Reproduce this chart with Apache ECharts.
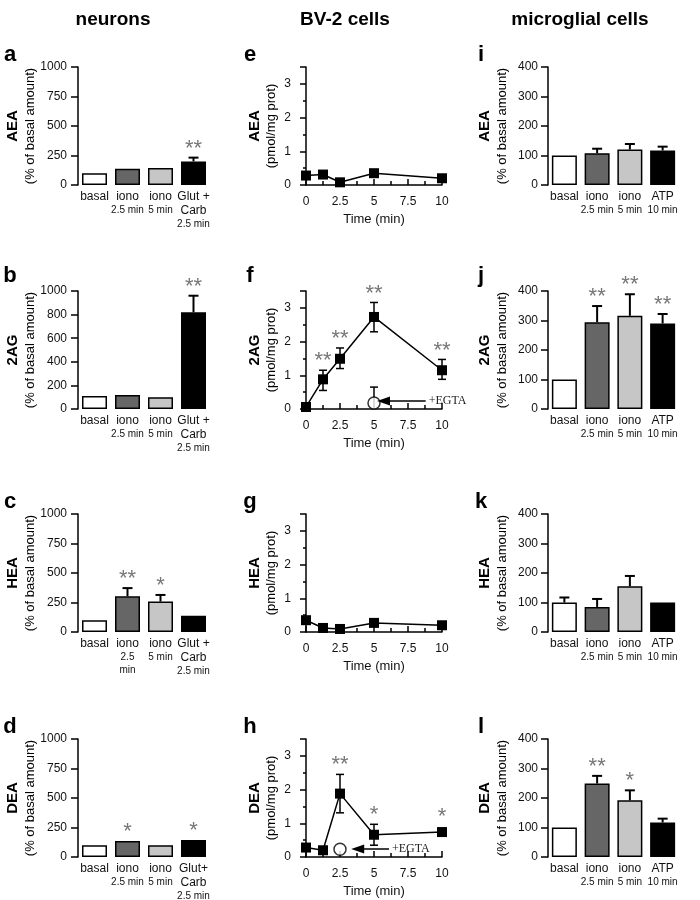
<!DOCTYPE html>
<html>
<head>
<meta charset="utf-8">
<script src="https://cdn.jsdelivr.net/npm/echarts@6/dist/echarts.min.js"></script>
<style>
  html, body { margin: 0; padding: 0; background: #fff; }
  #chart { width: 700px; height: 900px; }
</style>
</head>
<body>
<div id="chart"></div>
<script>
'use strict';

// ---- data ----
var times = [0, 1.25, 2.5, 5, 10];
var timeTicks = [0, 2.5, 5, 7.5, 10];

// neurons, % of basal amount
var neuronCats = ['basal', 'iono\n2.5 min', 'iono\n5 min', 'Glut +\nCarb\n2.5 min'];
var neuronCatsHEA = ['basal', 'iono\n2.5\nmin', 'iono\n5 min', 'Glut +\nCarb\n2.5 min'];
var neuronCatsDEA = ['basal', 'iono\n2.5 min', 'iono\n5 min', 'Glut+\nCarb\n2.5 min'];
var neuronAEA = [100, 138, 145, 200];
var neuronAEAErr = [null, null, null, 232];
var neuronAEAStars = ['', '', '', '**'];
var neuron2AG = [110, 118, 100, 820];
var neuron2AGErr = [null, null, null, 960];
var neuron2AGStars = ['', '', '', '**'];
var neuronHEA = [100, 302, 258, 138];
var neuronHEAErr = [null, 372, 314, null];
var neuronHEAStars = ['', '**', '*', ''];
var neuronDEA = [100, 135, 100, 145];
var neuronDEAErr = [null, null, null, null];
var neuronDEAStars = ['', '*', '', '*'];

// BV-2 cells, pmol/mg prot over time
var bv2AEA = [0.28, 0.31, 0.08, 0.35, 0.2];
var bv22AG = [0.06, 0.88, 1.49, 2.73, 1.15];
var bv22AGHi = [null, 1.15, 1.81, 3.16, 1.47];
var bv22AGLo = [null, 0.55, 1.2, 2.29, 0.88];
var bv22AGStars = ['', '**', '**', '**', '**'];
var bv2HEA = [0.35, 0.12, 0.09, 0.27, 0.2];
var bv2DEA = [0.28, 0.2, 1.88, 0.66, 0.74];
var bv2DEAHi = [null, null, 2.45, 0.97, null];
var bv2DEALo = [null, null, 1.31, 0.35, null];
var bv2DEAStars = ['', '', '**', '*', '*'];
var egta2AG = [5, 0.18, 0.65];     // time, value, upper error
var egtaDEA = [2.5, 0.23, null];
var egtaArrow2AG = [5.7, 8.8, 0.24];  // from time, to time, level
var egtaArrowDEA = [3.8, 6.1, 0.24];

// microglial cells, % of basal amount
var microCats = ['basal', 'iono\n2.5 min', 'iono\n5 min', 'ATP\n10 min'];
var microAEA = [100, 108, 120, 117];
var microAEAErr = [null, 123, 139, 130];
var micro2AG = [100, 294, 316, 290];
var micro2AGErr = [null, 349, 389, 322];
var micro2AGStars = ['', '**', '**', '**'];
var microHEA = [100, 85, 155, 100];
var microHEAErr = [117, 112, 190, null];
var microDEA = [100, 249, 192, 117];
var microDEAErr = [null, 275, 226, 130];
var microDEAStars = ['', '**', '*', ''];
var noStars = ['', '', '', '', ''];

// ---- layout ----
var FONT = '"Liberation Sans", Arial, sans-serif';
var barColors = ['#ffffff', '#666666', '#c6c6c6', '#000000'];
var colLeft = [78, 306, 548];
var colWidth = [132, 136, 131];
var rowTop = [67, 291, 514, 739];
var plotH = 118;

var grids = [], xAxes = [], yAxes = [], series = [], graphics = [];

function catLabel(value) {
    return value.split('\n').map(function(line, i) {
        var small = i > 0 && /\d|min/.test(line);
        return '{' + (small ? 's' : 'm') + '|' + line + '}';
    }).join('\n');
}

function starText(s, x, y) {
    return {
        type: 'text', x: x, y: y - 3,
        style: { text: s, font: '22px ' + FONT, fill: '#777', align: 'center', verticalAlign: 'middle' }
    };
}

function addGrid(col, row) {
    var idx = grids.length;
    grids.push({ left: colLeft[col], top: rowTop[row], width: colWidth[col], height: plotH, outerBoundsMode: 'none' });
    return idx;
}

var axisLineStyle = { color: '#000', width: 1.5 };

function addBarPanel(col, row, cats, vals, errs, stars, max, interval) {
    var idx = addGrid(col, row);
    xAxes.push({
        type: 'category', gridIndex: idx, data: cats,
        axisLine: { show: false }, axisTick: { show: false },
        axisLabel: {
            interval: 0, margin: 5, formatter: catLabel,
            rich: {
                m: { fontSize: 12, lineHeight: 14, fontFamily: FONT, color: '#111' },
                s: { fontSize: 10, lineHeight: 13, fontFamily: FONT, color: '#111' }
            }
        }
    });
    yAxes.push({
        type: 'value', gridIndex: idx, min: 0, max: max, interval: interval,
        axisLine: { show: true, lineStyle: axisLineStyle },
        axisTick: { show: true, length: 7, lineStyle: axisLineStyle },
        axisLabel: {
            fontSize: 12, fontFamily: FONT, color: '#111', margin: col === 0 ? 11 : 10,
            formatter: function(v) { return String(v); }
        },
        splitLine: { show: false }
    });
    series.push({
        type: 'bar', xAxisIndex: idx, yAxisIndex: idx, barWidth: 25,
        itemStyle: { borderColor: '#000', borderWidth: 1.5 },
        data: vals.map(function(v, i) {
            return { value: v, itemStyle: { color: barColors[i] } };
        }),
        animation: false, silent: true
    });
    series.push({
        type: 'custom', xAxisIndex: idx, yAxisIndex: idx, z: 3,
        data: vals.map(function(v, i) { return [i, v]; }),
        renderItem: function(params, api) {
            var i = params.dataIndex;
            var base = api.coord([api.value(0), api.value(1)]);
            var top = base[1];
            var children = [];
            if (errs[i] != null) {
                var p = api.coord([api.value(0), errs[i]]);
                children.push({ type: 'line', shape: { x1: base[0], y1: base[1], x2: p[0], y2: p[1] }, style: { stroke: '#000', lineWidth: 2 } });
                children.push({ type: 'line', shape: { x1: p[0] - 5, y1: p[1], x2: p[0] + 5, y2: p[1] }, style: { stroke: '#000', lineWidth: 2 } });
                top = p[1];
            }
            if (stars[i]) children.push(starText(stars[i], base[0], top - 6));
            return { type: 'group', children: children };
        },
        animation: false, silent: true
    });
}

function errorSeries(idx, ts, vals, hi, lo, stars) {
    return {
        type: 'custom', xAxisIndex: idx, yAxisIndex: idx, z: 1,
        data: ts.map(function(t, i) { return [t, vals[i]]; }),
        renderItem: function(params, api) {
            var i = params.dataIndex;
            var base = api.coord([api.value(0), api.value(1)]);
            var top = base[1] - 6;
            var children = [];
            [hi[i], lo[i]].forEach(function(e) {
                if (e == null) return;
                var p = api.coord([api.value(0), e]);
                children.push({ type: 'line', shape: { x1: base[0], y1: base[1], x2: p[0], y2: p[1] }, style: { stroke: '#000', lineWidth: 1.5 } });
                children.push({ type: 'line', shape: { x1: p[0] - 4, y1: p[1], x2: p[0] + 4, y2: p[1] }, style: { stroke: '#000', lineWidth: 1.5 } });
                if (e > api.value(1)) top = p[1];
            });
            if (stars[i]) children.push(starText(stars[i], base[0], top - 6));
            return { type: 'group', children: children };
        },
        animation: false, silent: true
    };
}

function addLinePanel(row, vals, hi, lo, stars, egta, arrow) {
    var idx = addGrid(1, row);
    xAxes.push({
        type: 'value', gridIndex: idx, min: timeTicks[0], max: timeTicks[timeTicks.length - 1], interval: 2.5,
        axisLine: { show: true, lineStyle: axisLineStyle },
        axisTick: { show: true, inside: true, length: 6, lineStyle: axisLineStyle },
        minorTick: { show: true, splitNumber: 2, length: 4, lineStyle: axisLineStyle },
        axisLabel: { fontSize: 12, fontFamily: FONT, color: '#111', margin: 11 },
        splitLine: { show: false },
        name: 'Time (min)', nameLocation: 'middle', nameGap: 28,
        nameTextStyle: { fontSize: 13, fontFamily: FONT, color: '#111' }
    });
    yAxes.push({
        type: 'value', gridIndex: idx, min: 0, max: 3.5, interval: 1, offset: 7,
        axisLine: { show: true, lineStyle: axisLineStyle },
        axisTick: { show: true, length: 6, lineStyle: axisLineStyle },
        minorTick: { show: true, splitNumber: 2, length: 3, lineStyle: axisLineStyle },
        axisLabel: { fontSize: 12, fontFamily: FONT, color: '#111', margin: 8, showMaxLabel: false },
        splitLine: { show: false }
    });
    series.push(errorSeries(idx, times, vals, hi, lo, stars));
    series.push({
        type: 'line', xAxisIndex: idx, yAxisIndex: idx, clip: false,
        data: times.map(function(t, i) { return [t, vals[i]]; }),
        symbol: 'rect', symbolSize: 10, showAllSymbol: true,
        itemStyle: { color: '#000' }, lineStyle: { color: '#000', width: 1.5 },
        animation: false, silent: true
    });
    if (egta) {
        series.push(errorSeries(idx, [egta[0]], [egta[1]], [egta[2]], [null], ['']));
        series.push({
            type: 'scatter', xAxisIndex: idx, yAxisIndex: idx, z: 4, clip: false,
            data: [[egta[0], egta[1]]], symbol: 'circle', symbolSize: 12,
            itemStyle: { color: '#fff', borderColor: '#000', borderWidth: 1.5 },
            markLine: {
                silent: true, animation: false,
                symbol: ['triangle', 'none'], symbolSize: [9, 13],
                lineStyle: { color: '#000', width: 1.5, type: 'solid' },
                itemStyle: { color: '#000' },
                label: { show: true, position: 'end', distance: 3, formatter: '+EGTA', fontFamily: '"Liberation Serif", serif', fontSize: 12, color: '#222' },
                data: [[{ coord: [arrow[0], arrow[2]] }, { coord: [arrow[1], arrow[2]] }]]
            },
            animation: false, silent: true
        });
    }
}

function text(x, y, s, font, rot) {
    graphics.push({
        type: 'text', x: x, y: y, rotation: rot || 0,
        style: { text: s, font: font, fill: '#000', align: 'center', verticalAlign: 'middle' }
    });
}

// ---- panels ----
addBarPanel(0, 0, neuronCats, neuronAEA, neuronAEAErr, neuronAEAStars, 1000, 250);
addBarPanel(0, 1, neuronCats, neuron2AG, neuron2AGErr, neuron2AGStars, 1000, 200);
addBarPanel(0, 2, neuronCatsHEA, neuronHEA, neuronHEAErr, neuronHEAStars, 1000, 250);
addBarPanel(0, 3, neuronCatsDEA, neuronDEA, neuronDEAErr, neuronDEAStars, 1000, 250);

addLinePanel(0, bv2AEA, [], [], noStars, null, null);
addLinePanel(1, bv22AG, bv22AGHi, bv22AGLo, bv22AGStars, egta2AG, egtaArrow2AG);
addLinePanel(2, bv2HEA, [], [], noStars, null, null);
addLinePanel(3, bv2DEA, bv2DEAHi, bv2DEALo, bv2DEAStars, egtaDEA, egtaArrowDEA);

addBarPanel(2, 0, microCats, microAEA, microAEAErr, noStars, 400, 100);
addBarPanel(2, 1, microCats, micro2AG, micro2AGErr, micro2AGStars, 400, 100);
addBarPanel(2, 2, microCats, microHEA, microHEAErr, noStars, 400, 100);
addBarPanel(2, 3, microCats, microDEA, microDEAErr, microDEAStars, 400, 100);

// column headers
var headFont = 'bold 19px ' + FONT;
text(113, 20, 'neurons', headFont);
text(345, 20, 'BV-2 cells', headFont);
text(580, 20, 'microglial cells', headFont);

// panel letters and y titles
var letters = [['a', 'b', 'c', 'd'], ['e', 'f', 'g', 'h'], ['i', 'j', 'k', 'l']];
var letterX = [10, 250, 481];
var letterDy = [-12, -15, -12, -12];
var compounds = ['AEA', '2AG', 'HEA', 'DEA'];
var units = ['(% of basal amount)', '(pmol/mg prot)', '(% of basal amount)'];
var nameX = [13, 255, 485];
var unitX = [30, 271, 502];
for (var c = 0; c < 3; c++) {
    for (var r = 0; r < 4; r++) {
        text(letterX[c], rowTop[r] + letterDy[r], letters[c][r], 'bold 22px ' + FONT);
        var mid = rowTop[r] + plotH / 2;
        text(nameX[c], mid, compounds[r], 'bold 15px ' + FONT, Math.PI / 2);
        text(unitX[c], mid, units[c], '13px ' + FONT, Math.PI / 2);
    }
}

var chart = echarts.init(document.getElementById('chart'));
chart.setOption({
    animation: false,
    backgroundColor: '#fff',
    textStyle: { fontFamily: FONT },
    grid: grids,
    xAxis: xAxes,
    yAxis: yAxes,
    series: series,
    graphic: graphics
});
</script>
</body>
</html>
